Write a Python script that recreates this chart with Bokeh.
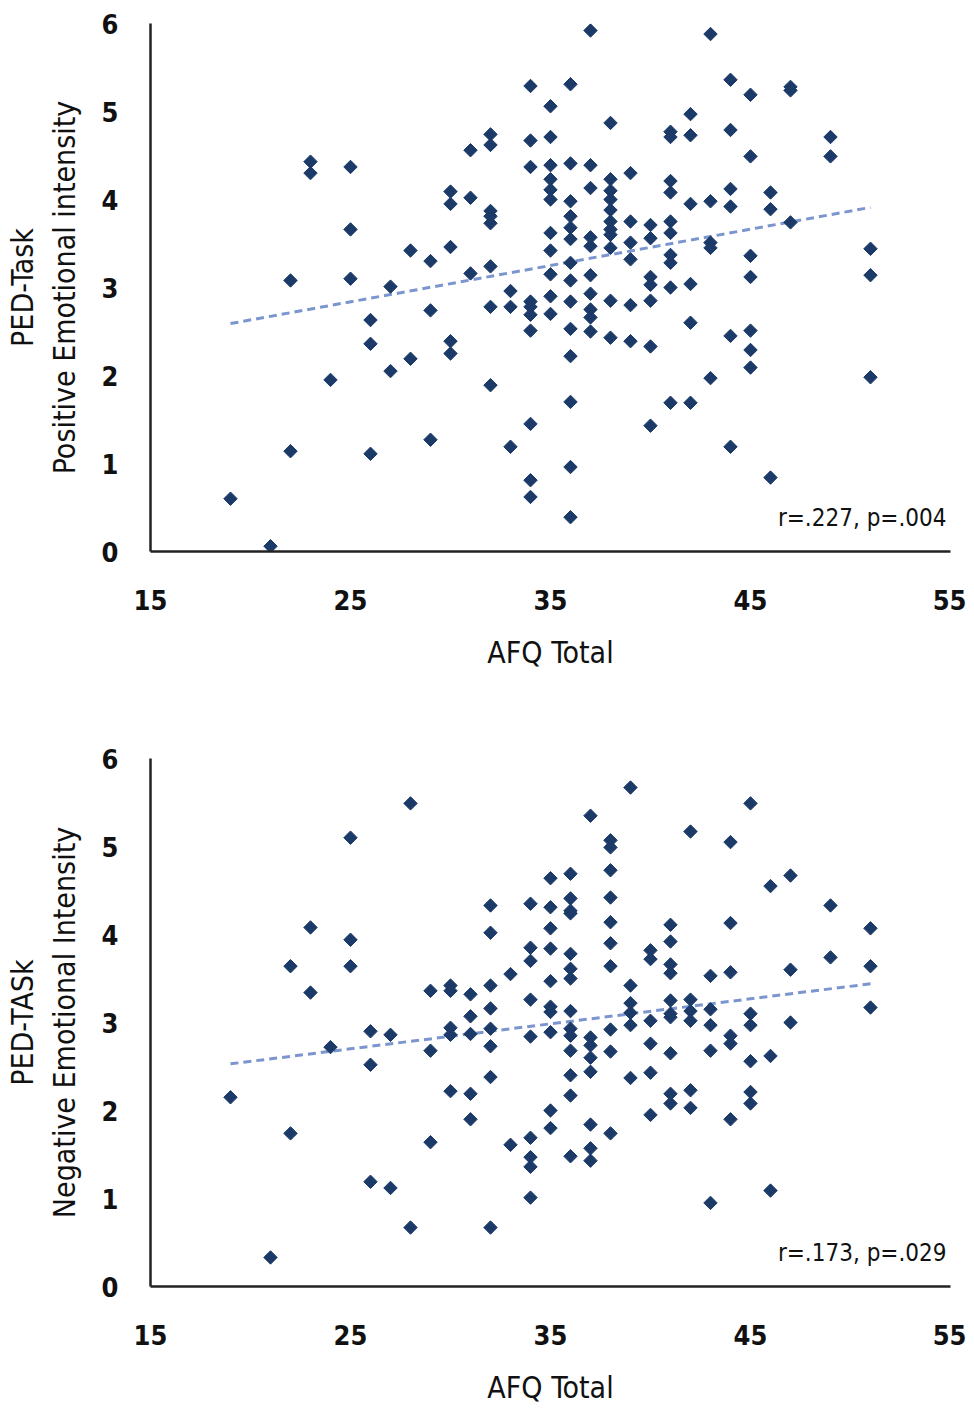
import math
from bokeh.plotting import figure
from bokeh.models import Range1d, FixedTicker, Label, ColumnDataSource
from bokeh.layouts import column
from bokeh.embed import file_html
from bokeh.resources import INLINE

# ---------------- data ----------------
x_ticks = [15, 25, 35, 45, 55]
y_ticks = [0, 1, 2, 3, 4, 5, 6]

top_afq = (
    [19] + [21] + [22] * 2 + [23] * 2 + [24] + [25] * 3 + [26] * 3 + [27] * 2 + [28] * 2 + [29] * 3
    + [30] * 5 + [31] * 3 + [32] * 8 + [33] * 3 + [34] * 10 + [35] * 11 + [36] * 14 + [37] * 10
    + [38] * 11 + [39] * 6 + [40] * 7 + [41] * 10 + [42] * 6 + [43] * 5 + [44] * 6 + [45] * 7
    + [46] * 3 + [47] * 3 + [49] * 2 + [51] * 3
)
top_positive = [
    0.60,
    0.06,
    3.08, 1.14,
    4.43, 4.30,
    1.95,
    4.37, 3.66, 3.10,
    2.63, 2.36, 1.11,
    3.01, 2.05,
    3.42, 2.19,
    3.30, 2.74, 1.27,
    4.09, 3.95, 3.46, 2.39, 2.25,
    4.56, 4.02, 3.16,
    4.74, 4.62, 3.87, 3.81, 3.73, 3.24, 2.78, 1.89,
    2.96, 2.78, 1.19,
    5.29, 4.67, 4.37, 2.84, 2.78, 2.69, 2.51, 1.45, 0.81, 0.62,
    5.06, 4.71, 4.39, 4.23, 4.11, 4.00, 3.62, 3.42, 3.15, 2.90, 2.70,
    5.31, 4.41, 3.98, 3.81, 3.68, 3.55, 3.28, 3.08, 2.84, 2.53, 2.22, 1.70, 0.96, 0.39,
    5.92, 4.39, 4.13, 3.57, 3.47, 3.14, 2.93, 2.75, 2.66, 2.50,
    4.87, 4.23, 4.10, 4.00, 3.88, 3.75, 3.66, 3.60, 3.45, 2.85, 2.43,
    4.30, 3.75, 3.51, 3.32, 2.80, 2.39,
    3.71, 3.56, 3.12, 3.03, 2.85, 2.33, 1.43,
    4.77, 4.71, 4.21, 4.08, 3.75, 3.62, 3.37, 3.28, 3.00, 1.69,
    4.97, 4.73, 3.95, 3.04, 2.60, 1.69,
    5.88, 3.98, 3.51, 3.45, 1.97,
    5.36, 4.79, 4.12, 3.92, 2.45, 1.19,
    5.19, 4.49, 3.36, 3.12, 2.51, 2.29, 2.09,
    4.08, 3.89, 0.84,
    5.28, 5.24, 3.74,
    4.71, 4.49,
    3.44, 3.14, 1.98,
]

bottom_afq = (
    [19] + [21] + [22] * 2 + [23] * 2 + [24] + [25] * 3 + [26] * 3 + [27] * 2 + [28] * 2 + [29] * 3
    + [30] * 5 + [31] * 5 + [32] * 8 + [33] * 2 + [34] * 9 + [35] * 10 + [36] * 14 + [37] * 8
    + [38] * 10 + [39] * 6 + [40] * 6 + [41] * 10 + [42] * 6 + [43] * 5 + [44] * 6 + [45] * 6
    + [46] * 3 + [47] * 3 + [49] * 2 + [51] * 3
)
bottom_negative = [
    2.15,
    0.33,
    3.64, 1.74,
    4.08, 3.34,
    2.72,
    5.10, 3.94, 3.64,
    2.90, 2.52, 1.19,
    2.86, 1.12,
    5.49, 0.67,
    3.36, 2.68, 1.64,
    3.42, 3.36, 2.94, 2.86, 2.22,
    3.32, 3.07, 2.87, 2.19, 1.90,
    4.33, 4.02, 3.42, 3.16, 2.93, 2.73, 2.38, 0.67,
    3.55, 1.61,
    4.35, 3.85, 3.70, 3.26, 2.84, 1.69, 1.47, 1.36, 1.01,
    4.64, 4.31, 4.07, 3.84, 3.47, 3.18, 3.12, 2.89, 2.00, 1.80,
    4.69, 4.41, 4.27, 4.24, 3.78, 3.61, 3.50, 3.13, 2.93, 2.85, 2.68, 2.40, 2.17, 1.48,
    5.35, 2.83, 2.74, 2.60, 2.44, 1.84, 1.57, 1.43,
    5.07, 4.99, 4.73, 4.42, 4.14, 3.90, 3.64, 2.92, 2.67, 1.74,
    5.67, 3.42, 3.22, 3.11, 2.97, 2.37,
    3.82, 3.72, 3.02, 2.76, 2.43, 1.95,
    4.11, 3.92, 3.66, 3.56, 3.25, 3.10, 3.06, 2.65, 2.19, 2.08,
    5.17, 3.26, 3.13, 3.02, 2.23, 2.03,
    3.53, 3.15, 2.97, 2.68, 0.95,
    5.05, 4.13, 3.57, 2.85, 2.76, 1.90,
    5.49, 3.10, 2.97, 2.56, 2.21, 2.08,
    4.55, 2.62, 1.09,
    4.67, 3.60, 3.00,
    4.33, 3.74,
    4.07, 3.64, 3.17,
]

trend_afq = [19, 51]
top_trend = [2.59, 3.91]
bottom_trend = [2.53, 3.44]

top_ylabel = "PED-Task\nPositive Emotional intensity"
bottom_ylabel = "PED-TASk\nNegative Emotional Intensity"
xlabel = "AFQ Total"
top_note = "r=.227, p=.004"
bottom_note = "r=.173, p=.029"

# ---------------- styling ----------------
FONT = "DejaVu Sans Condensed"
MARKER = "#1B3A68"
TREND = "#7B95CF"
AXIS = "#222222"


def make_plot(xs, ys, tx, ty, ylabel, note, border_top, border_bottom):
    p = figure(
        frame_width=800, frame_height=528,
        x_range=Range1d(15, 55), y_range=Range1d(0, 6),
        output_backend="svg", toolbar_location=None,
        min_border_left=150, min_border_right=16,
        min_border_top=border_top, min_border_bottom=border_bottom,
    )
    p.outline_line_color = None
    p.xgrid.visible = False
    p.ygrid.visible = False
    p.background_fill_color = "white"
    p.border_fill_color = "white"

    for ax in (p.xaxis[0], p.yaxis[0]):
        ax.axis_line_color = AXIS
        ax.axis_line_width = 2.5
        ax.major_tick_line_color = None
        ax.minor_tick_line_color = None
        ax.major_tick_in = 0
        ax.major_tick_out = 0
        ax.major_label_text_font = FONT
        ax.major_label_text_font_size = "27px"
        ax.major_label_text_font_style = "bold"
        ax.major_label_text_color = "#111111"
        ax.axis_label_text_font = FONT
        ax.axis_label_text_font_size = "30px"
        ax.axis_label_text_font_style = "normal"
        ax.axis_label_text_color = "#111111"

    p.xaxis.ticker = FixedTicker(ticks=x_ticks)
    p.yaxis.ticker = FixedTicker(ticks=y_ticks)
    p.xaxis.axis_label = xlabel
    p.yaxis.axis_label = ylabel
    p.xaxis.major_label_standoff = 38
    p.xaxis.axis_label_standoff = 22
    p.yaxis.major_label_standoff = 32
    p.yaxis.axis_label_standoff = 17

    p.line(tx, ty, line_color=TREND, line_width=3, line_dash="8 5")
    src = ColumnDataSource(dict(x=xs, y=ys))
    p.scatter("x", "y", source=src, marker="square", size=9.5, angle=math.pi / 4,
              fill_color=MARKER, line_color=MARKER, line_width=1)

    p.add_layout(Label(x=54.8, y=0.38, text=note, text_align="right", text_baseline="middle",
                       text_font=FONT, text_font_size="24px", text_color="#111111"))
    return p


p1 = make_plot(top_afq, top_positive, trend_afq, top_trend, top_ylabel, top_note, 23, 140)
p2 = make_plot(bottom_afq, bottom_negative, trend_afq, bottom_trend, bottom_ylabel, bottom_note, 67, 118)

layout = column(p1, p2, spacing=0)
open("out.html", "w").write(file_html(layout, INLINE))
